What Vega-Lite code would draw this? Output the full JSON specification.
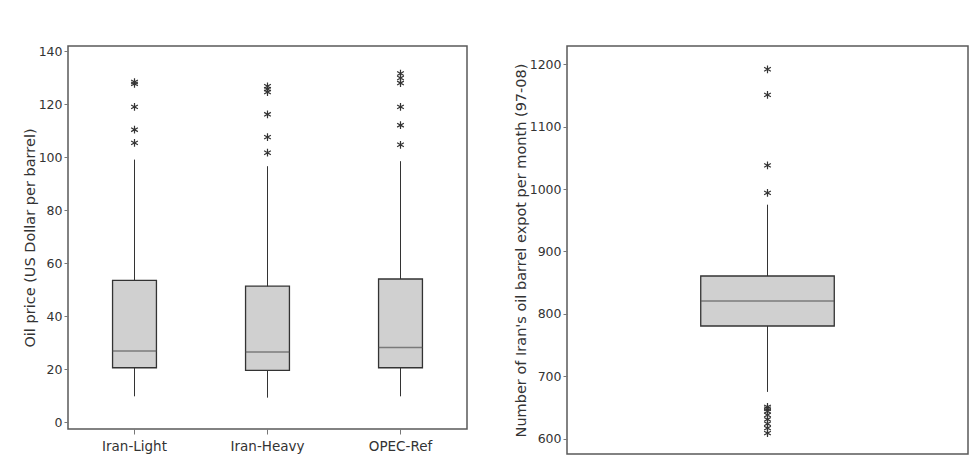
{
  "$schema": "https://vega.github.io/schema/vega-lite/v6.json",
  "padding": {"left": 21, "top": 44, "right": 7, "bottom": 0},
  "background": "white",
  "bounds": "flush",
  "spacing": 100,
  "config": {
    "font": "DejaVu Sans",
    "view": {"stroke": "#5a5a5a", "strokeWidth": 1.5},
    "axis": {
      "grid": false,
      "domain": false,
      "tickColor": "#777",
      "tickSize": 4,
      "labelColor": "#333",
      "titleColor": "#333",
      "labelFontSize": 12.5,
      "titleFontSize": 14.5,
      "titleFontWeight": "normal",
      "labelPadding": 2,
      "titlePadding": 1
    }
  },
  "datasets": {
    "oil": [
      {"series": "Iran-Light", "lower": 9.7, "q1": 20.5, "median": 26.8, "q3": 53.5, "upper": 99.1},
      {"series": "Iran-Heavy", "lower": 9.2, "q1": 19.5, "median": 26.4, "q3": 51.3, "upper": 96.6},
      {"series": "OPEC-Ref", "lower": 9.7, "q1": 20.5, "median": 28.1, "q3": 54.0, "upper": 98.5}
    ],
    "oilOut": [
      {"series": "Iran-Light", "value": 128.4},
      {"series": "Iran-Light", "value": 127.7},
      {"series": "Iran-Light", "value": 119.0},
      {"series": "Iran-Light", "value": 110.4},
      {"series": "Iran-Light", "value": 105.4},
      {"series": "Iran-Heavy", "value": 126.8},
      {"series": "Iran-Heavy", "value": 125.7},
      {"series": "Iran-Heavy", "value": 124.6},
      {"series": "Iran-Heavy", "value": 116.2},
      {"series": "Iran-Heavy", "value": 107.6},
      {"series": "Iran-Heavy", "value": 101.7},
      {"series": "OPEC-Ref", "value": 131.6},
      {"series": "OPEC-Ref", "value": 129.9},
      {"series": "OPEC-Ref", "value": 128.0},
      {"series": "OPEC-Ref", "value": 119.0},
      {"series": "OPEC-Ref", "value": 112.1},
      {"series": "OPEC-Ref", "value": 104.7}
    ],
    "exp": [
      {"series": "Export", "lower": 675, "q1": 780.6, "median": 820.7, "q3": 860.7, "upper": 975}
    ],
    "expOut": [
      {"series": "Export", "value": 1192},
      {"series": "Export", "value": 1151},
      {"series": "Export", "value": 1038},
      {"series": "Export", "value": 994},
      {"series": "Export", "value": 651},
      {"series": "Export", "value": 648},
      {"series": "Export", "value": 644},
      {"series": "Export", "value": 638},
      {"series": "Export", "value": 631},
      {"series": "Export", "value": 624},
      {"series": "Export", "value": 617},
      {"series": "Export", "value": 609}
    ]
  },
  "hconcat": [
    {
      "width": 399,
      "height": 383,
      "data": {"name": "oil"},
      "encoding": {
        "x": {
          "field": "series",
          "type": "nominal",
          "sort": ["Iran-Light", "Iran-Heavy", "OPEC-Ref"],
          "scale": {"paddingInner": 0, "paddingOuter": 0},
          "title": null,
          "axis": {"labelAngle": 0, "tickSize": 5, "labelFontSize": 13.5, "labelPadding": 5}
        }
      },
      "layer": [
        {
          "mark": {"type": "rule", "color": "#333", "strokeWidth": 1},
          "encoding": {
            "y": {
              "field": "lower",
              "type": "quantitative",
              "scale": {"domain": [-2.64, 142.0], "nice": false, "zero": false},
              "axis": {"values": [0, 20, 40, 60, 80, 100, 120, 140], "format": "d"},
              "title": "Oil price (US Dollar per barrel)"
            },
            "y2": {"field": "upper"}
          }
        },
        {
          "mark": {"type": "bar", "width": {"band": 0.33}, "fill": "#d0d0d0", "stroke": "#333", "strokeWidth": 1.3},
          "encoding": {
            "y": {"field": "q1", "type": "quantitative", "title": "Oil price (US Dollar per barrel)"},
            "y2": {"field": "q3"}
          }
        },
        {
          "mark": {"type": "tick", "size": 44, "color": "#555", "thickness": 1.5},
          "encoding": {
            "y": {"field": "median", "type": "quantitative", "title": "Oil price (US Dollar per barrel)"}
          }
        },
        {
          "data": {"name": "oilOut"},
          "mark": {"type": "point", "shape": "M0,-1L0,1M-0.87,-0.5L0.87,0.5M-0.87,0.5L0.87,-0.5", "size": 60, "stroke": "#333", "strokeWidth": 1.2, "filled": false, "opacity": 1},
          "encoding": {
            "y": {"field": "value", "type": "quantitative", "title": "Oil price (US Dollar per barrel)"}
          }
        }
      ]
    },
    {
      "width": 401,
      "height": 408,
      "data": {"name": "exp"},
      "encoding": {
        "x": {
          "field": "series",
          "type": "nominal",
          "scale": {"paddingInner": 0, "paddingOuter": 0},
          "axis": null
        }
      },
      "layer": [
        {
          "mark": {"type": "rule", "color": "#333", "strokeWidth": 1},
          "encoding": {
            "y": {
              "field": "lower",
              "type": "quantitative",
              "scale": {"domain": [575.5, 1229.3], "nice": false, "zero": false},
              "axis": {"values": [600, 700, 800, 900, 1000, 1100, 1200], "format": "d"},
              "title": "Number of Iran's oil barrel expot per month (97-08)"
            },
            "y2": {"field": "upper"}
          }
        },
        {
          "mark": {"type": "bar", "width": {"band": 0.333}, "fill": "#d0d0d0", "stroke": "#333", "strokeWidth": 1.3},
          "encoding": {
            "y": {"field": "q1", "type": "quantitative", "title": "Number of Iran's oil barrel expot per month (97-08)"},
            "y2": {"field": "q3"}
          }
        },
        {
          "mark": {"type": "tick", "size": 133, "color": "#555", "thickness": 1.5},
          "encoding": {
            "y": {"field": "median", "type": "quantitative", "title": "Number of Iran's oil barrel expot per month (97-08)"}
          }
        },
        {
          "data": {"name": "expOut"},
          "mark": {"type": "point", "shape": "M0,-1L0,1M-0.87,-0.5L0.87,0.5M-0.87,0.5L0.87,-0.5", "size": 60, "stroke": "#333", "strokeWidth": 1.2, "filled": false, "opacity": 1},
          "encoding": {
            "y": {"field": "value", "type": "quantitative", "title": "Number of Iran's oil barrel expot per month (97-08)"}
          }
        }
      ]
    }
  ]
}
